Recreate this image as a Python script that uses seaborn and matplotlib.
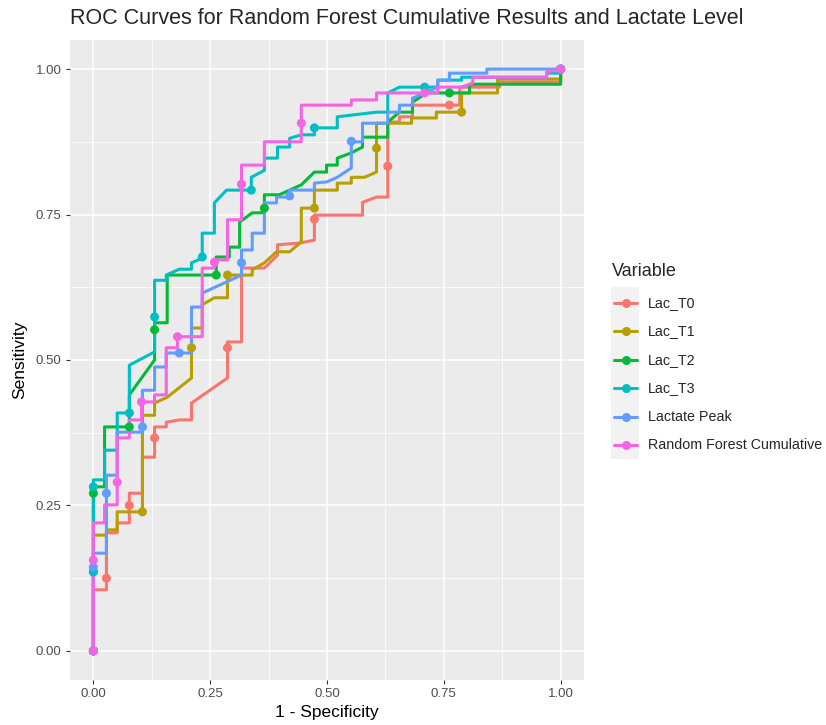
import matplotlib
matplotlib.use("Agg")
import matplotlib.pyplot as plt
from matplotlib.lines import Line2D
from matplotlib.patches import Rectangle
from matplotlib.ticker import MultipleLocator
import pandas as pd
import seaborn as sns


#Series names and ggplot hue colours
names = ["Lac_T0", "Lac_T1", "Lac_T2", "Lac_T3", "Lactate Peak", "Random Forest Cumulative"]
colors = ["#F8766D", "#B79F00", "#00BA38", "#00BFC4", "#619CFF", "#F564E3"]

#ROC paths (1 - specificity, sensitivity)
t0_fpr = [0, 0, 0.028, 0.028, 0.051, 0.051, 0.077, 0.077, 0.105, 0.105, 0.131, 0.131, 0.156, 0.156,
          0.184, 0.210, 0.210, 0.287, 0.287, 0.317, 0.317, 0.366, 0.394, 0.394, 0.441, 0.473, 0.473,
          0.576, 0.576, 0.606, 0.630, 0.630, 0.655, 0.655, 0.683, 0.683, 0.784, 0.784, 0.869, 0.869, 1.0, 1.0]
t0_tpr = [0, 0.105, 0.105, 0.203, 0.203, 0.220, 0.220, 0.271, 0.271, 0.333, 0.333, 0.385, 0.385, 0.393,
          0.397, 0.397, 0.426, 0.469, 0.531, 0.531, 0.658, 0.658, 0.680, 0.698, 0.701, 0.706, 0.749,
          0.749, 0.771, 0.780, 0.780, 0.909, 0.909, 0.918, 0.918, 0.938, 0.938, 0.969, 0.969, 0.978, 0.978, 1.0]
t0_cut_fpr = [0, 0.028, 0.077, 0.131, 0.287, 0.473, 0.630, 0.762, 1.0]
t0_cut_tpr = [0, 0.125, 0.250, 0.366, 0.521, 0.742, 0.833, 0.938, 1.0]

t1_fpr = [0, 0, 0.028, 0.028, 0.051, 0.051, 0.105, 0.105, 0.131, 0.131, 0.158, 0.210, 0.210, 0.233,
          0.233, 0.259, 0.287, 0.287, 0.340, 0.340, 0.366, 0.392, 0.420, 0.445, 0.445, 0.473, 0.473,
          0.522, 0.522, 0.552, 0.552, 0.580, 0.606, 0.606, 0.681, 0.681, 0.734, 0.734, 0.788, 0.788,
          0.865, 0.865, 1.0, 1.0]
t1_tpr = [0, 0.199, 0.199, 0.208, 0.208, 0.239, 0.239, 0.405, 0.405, 0.426, 0.436, 0.469, 0.555, 0.555,
          0.595, 0.607, 0.607, 0.646, 0.646, 0.655, 0.667, 0.686, 0.686, 0.703, 0.761, 0.761, 0.792,
          0.792, 0.804, 0.804, 0.814, 0.814, 0.823, 0.907, 0.907, 0.916, 0.916, 0.926, 0.926, 0.959,
          0.959, 0.983, 0.983, 1.0]
t1_cut_fpr = [0, 0.105, 0.210, 0.287, 0.473, 0.606, 0.788, 1.0]
t1_cut_tpr = [0, 0.239, 0.521, 0.646, 0.761, 0.864, 0.926, 1.0]

t2_fpr = [0, 0, 0.024, 0.024, 0.077, 0.077, 0.131, 0.131, 0.158, 0.158, 0.263, 0.263, 0.291, 0.291,
          0.313, 0.313, 0.340, 0.366, 0.366, 0.398, 0.445, 0.473, 0.499, 0.499, 0.522, 0.522, 0.552,
          0.576, 0.576, 0.630, 0.630, 0.655, 0.683, 0.683, 0.713, 0.805, 0.805, 1.0, 1.0]
t2_tpr = [0, 0.282, 0.282, 0.385, 0.385, 0.440, 0.500, 0.564, 0.564, 0.646, 0.646, 0.677, 0.677, 0.694,
          0.694, 0.737, 0.753, 0.753, 0.784, 0.784, 0.801, 0.823, 0.823, 0.835, 0.835, 0.847, 0.856,
          0.866, 0.883, 0.883, 0.909, 0.926, 0.926, 0.943, 0.959, 0.959, 0.974, 0.974, 1.0]
t2_cut_fpr = [0, 0, 0, 0.077, 0.131, 0.263, 0.366, 0.762, 1.0]
t2_cut_tpr = [0, 0.136, 0.271, 0.385, 0.552, 0.646, 0.761, 0.959, 1.0]

t3_fpr = [0, 0, 0.024, 0.024, 0.051, 0.051, 0.077, 0.077, 0.131, 0.131, 0.156, 0.156, 0.184, 0.210,
          0.210, 0.233, 0.233, 0.259, 0.259, 0.285, 0.338, 0.338, 0.366, 0.366, 0.394, 0.394, 0.420,
          0.420, 0.445, 0.473, 0.473, 0.522, 0.522, 0.606, 0.630, 0.630, 0.655, 0.737, 0.737, 0.788,
          0.788, 0.970, 0.970, 1.0, 1.0]
t3_tpr = [0, 0.294, 0.294, 0.345, 0.345, 0.409, 0.409, 0.491, 0.514, 0.637, 0.637, 0.646, 0.656, 0.656,
          0.667, 0.675, 0.718, 0.718, 0.770, 0.792, 0.792, 0.814, 0.826, 0.847, 0.847, 0.866, 0.866,
          0.881, 0.887, 0.887, 0.899, 0.899, 0.918, 0.926, 0.926, 0.959, 0.969, 0.969, 0.981, 0.981,
          0.986, 0.986, 0.993, 0.993, 1.0]
t3_cut_fpr = [0, 0, 0, 0.077, 0.131, 0.233, 0.338, 0.473, 0.709, 1.0]
t3_cut_tpr = [0, 0.136, 0.282, 0.409, 0.574, 0.677, 0.792, 0.899, 0.969, 1.0]

peak_fpr = [0, 0, 0.028, 0.028, 0.051, 0.051, 0.105, 0.105, 0.131, 0.131, 0.156, 0.156, 0.210, 0.210,
            0.233, 0.233, 0.317, 0.317, 0.340, 0.340, 0.366, 0.366, 0.392, 0.392, 0.420, 0.420, 0.473,
            0.473, 0.499, 0.522, 0.552, 0.552, 0.576, 0.576, 0.630, 0.630, 0.655, 0.655, 0.683, 0.683,
            0.709, 0.737, 0.737, 0.762, 0.762, 0.842, 0.842, 1.0]
peak_tpr = [0, 0.168, 0.168, 0.302, 0.302, 0.376, 0.376, 0.448, 0.448, 0.488, 0.488, 0.512, 0.512, 0.591,
            0.591, 0.615, 0.646, 0.689, 0.689, 0.718, 0.718, 0.770, 0.770, 0.780, 0.780, 0.792, 0.792,
            0.804, 0.806, 0.814, 0.830, 0.875, 0.875, 0.907, 0.907, 0.926, 0.926, 0.938, 0.938, 0.950,
            0.959, 0.969, 0.981, 0.981, 0.993, 0.993, 1.0, 1.0]
peak_cut_fpr = [0, 0, 0.028, 0.105, 0.184, 0.317, 0.420, 0.552, 1.0]
peak_cut_tpr = [0, 0.144, 0.271, 0.385, 0.512, 0.667, 0.782, 0.876, 1.0]

rf_fpr = [0, 0, 0.024, 0.024, 0.051, 0.051, 0.077, 0.077, 0.103, 0.103, 0.131, 0.131, 0.156, 0.156,
          0.180, 0.180, 0.233, 0.233, 0.259, 0.259, 0.287, 0.287, 0.317, 0.317, 0.366, 0.366, 0.445,
          0.445, 0.552, 0.552, 0.606, 0.606, 0.737, 0.737, 0.788, 0.812, 0.812, 0.970, 0.970, 1.0]
rf_tpr = [0, 0.220, 0.220, 0.251, 0.251, 0.366, 0.366, 0.397, 0.397, 0.428, 0.428, 0.440, 0.440, 0.521,
          0.521, 0.540, 0.540, 0.658, 0.658, 0.672, 0.672, 0.741, 0.741, 0.835, 0.835, 0.875, 0.875,
          0.938, 0.938, 0.947, 0.947, 0.959, 0.959, 0.969, 0.969, 0.976, 0.986, 0.986, 0.995, 1.0]
rf_cut_fpr = [0, 0, 0.051, 0.103, 0.180, 0.259, 0.317, 0.445, 0.709, 1.0]
rf_cut_tpr = [0, 0.156, 0.290, 0.428, 0.540, 0.668, 0.802, 0.907, 0.959, 1.0]


#Long tables for seaborn
paths = [(t0_fpr, t0_tpr), (t1_fpr, t1_tpr), (t2_fpr, t2_tpr),
         (t3_fpr, t3_tpr), (peak_fpr, peak_tpr), (rf_fpr, rf_tpr)]
cuts = [(t0_cut_fpr, t0_cut_tpr), (t1_cut_fpr, t1_cut_tpr), (t2_cut_fpr, t2_cut_tpr),
        (t3_cut_fpr, t3_cut_tpr), (peak_cut_fpr, peak_cut_tpr), (rf_cut_fpr, rf_cut_tpr)]

curves = pd.concat([pd.DataFrame({"fpr": f, "tpr": t, "Variable": n})
                    for (f, t), n in zip(paths, names)], ignore_index=True)
points = pd.concat([pd.DataFrame({"fpr": f, "tpr": t, "Variable": n})
                    for (f, t), n in zip(cuts, names)], ignore_index=True)


#Plot parameters
sns.set_theme(style="darkgrid")
plt.rcParams["font.family"] = ["Liberation Sans", "DejaVu Sans"]

W, H = 826, 725
fig = plt.figure(figsize=(W / 100, H / 100), dpi=100)
ax = fig.add_axes([70 / W, 45 / H, 514 / W, 640 / H])
ax.set_facecolor("#EBEBEB")

sns.lineplot(data=curves, x="fpr", y="tpr", hue="Variable", hue_order=names, palette=colors,
             sort=False, estimator=None, linewidth=2.2, legend=False, ax=ax)
sns.scatterplot(data=points, x="fpr", y="tpr", hue="Variable", hue_order=names, palette=colors,
                s=42, linewidth=0, legend=False, ax=ax, zorder=3)

ax.set_xlim(-0.05, 1.05)
ax.set_ylim(-0.05, 1.05)
ticks = [0, 0.25, 0.5, 0.75, 1.0]
ax.set_xticks(ticks)
ax.set_yticks(ticks)
ax.set_xticklabels([f"{t:.2f}" for t in ticks])
ax.set_yticklabels([f"{t:.2f}" for t in ticks])
ax.xaxis.set_minor_locator(MultipleLocator(0.125))
ax.yaxis.set_minor_locator(MultipleLocator(0.125))
ax.grid(which="major", color="white", linewidth=1.1)
ax.grid(which="minor", color="white", linewidth=0.55)
ax.tick_params(which="major", length=3, width=0.8, color="#333333", labelcolor="#4D4D4D",
               labelsize=9.5, pad=3, bottom=True, left=True)
ax.tick_params(which="minor", length=0)
for s in ax.spines.values():
    s.set_visible(False)
ax.set_xlabel("1 - Specificity", fontsize=12.5, color="black", labelpad=3)
ax.set_ylabel("Sensitivity", fontsize=12.5, color="black", labelpad=6)

fig.text(70 / W, 1 - 18 / H, "ROC Curves for Random Forest Cumulative Results and Lactate Level",
         fontsize=15.5, ha="left", va="center")

#Legend drawn by hand, ggplot style
fig.text(612 / W, 1 - 271 / H, "Variable", fontsize=13, ha="left", va="center")
fig.add_artist(Rectangle((611 / W, 1 - 459 / H), 28 / W, 172 / H, transform=fig.transFigure,
                         facecolor="#F2F2F2", edgecolor="none"))
for i, (n, c) in enumerate(zip(names, colors)):
    yk = 1 - (303 + i * 28.4) / H
    fig.add_artist(Line2D([614 / W, 637 / W], [yk, yk], transform=fig.transFigure, color=c, lw=2.2))
    fig.add_artist(Line2D([625.5 / W], [yk], transform=fig.transFigure, color=c, marker="o",
                          markersize=6.5, markeredgewidth=0))
    fig.text(648 / W, yk, n, fontsize=10.3, ha="left", va="center")

fig.savefig("out.png", dpi=100)
